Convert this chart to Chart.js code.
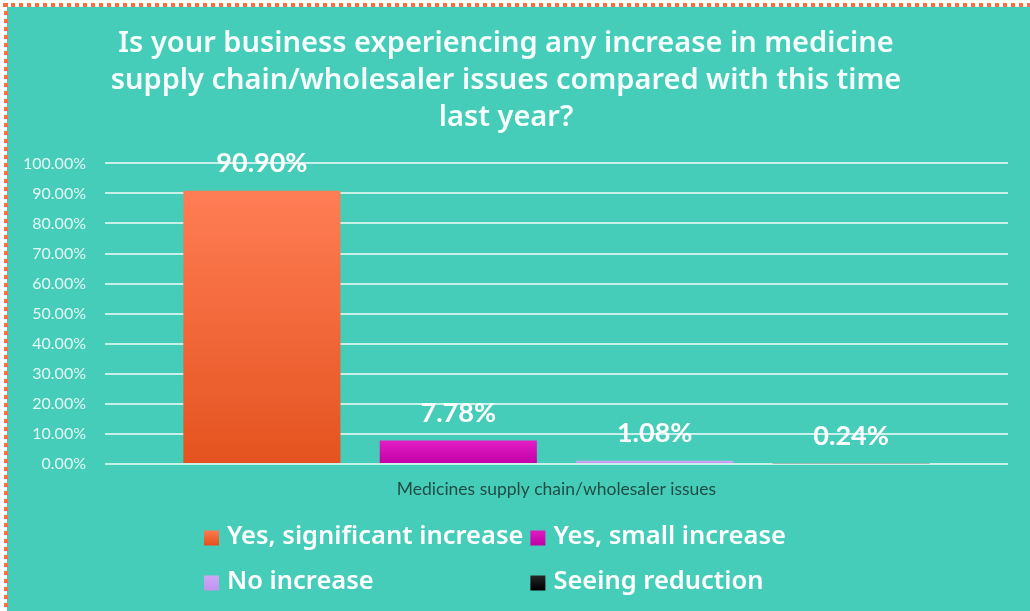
<!DOCTYPE html>
<html>
<head>
<meta charset="utf-8">
<script src="https://cdn.jsdelivr.net/npm/chart.js@4.4.0/dist/chart.umd.min.js"></script>
<style>
html, body { margin: 0; padding: 0; background: #ffffff; }
#wrap { width: 1030px; height: 611px; position: relative; }
</style>
</head>
<body>
<div id="wrap"><canvas id="supplyChart"></canvas></div>
<script>
// data
var categories = ['Medicines supply chain/wholesaler issues'];
var seriesNames = ['Yes, significant increase', 'Yes, small increase', 'No increase', 'Seeing reduction'];
var seriesValues = [90.90, 7.78, 1.08, 0.24];
var yTickMax = 100;
var yTickStep = 10;
var titleLines = [
  'Is your business experiencing any increase in medicine',
  'supply chain/wholesaler issues compared with this time',
  'last year?'
];

// colours (top / bottom of each bar's gradient)
var colorsTop = ['#ff7d55', '#e21ec4', '#d0a8f5', '#2a2a2a'];
var colorsBottom = ['#e4531f', '#c200a6', '#c096ee', '#000000'];
var teal = '#46cdb9';

function gradientFor(chart, i, top, bottom) {
  var g = chart.ctx.createLinearGradient(0, top, 0, bottom);
  g.addColorStop(0, colorsTop[i]);
  g.addColorStop(1, colorsBottom[i]);
  return g;
}

function barFill(c) {
  var chart = c.chart;
  if (!chart.chartArea || !chart.scales.y) return colorsTop[c.datasetIndex];
  var y = chart.scales.y;
  var top = y.getPixelForValue(c.raw);
  var bottom = y.getPixelForValue(0);
  if (bottom - top < 1) top = bottom - 1;
  return gradientFor(chart, c.datasetIndex, top, bottom);
}

// page background + dashed frame
var framePlugin = {
  id: 'frame',
  beforeDraw: function (chart) {
    var ctx = chart.ctx;
    ctx.save();
    ctx.fillStyle = '#ffffff';
    ctx.fillRect(0, 0, chart.width, chart.height);
    ctx.fillStyle = teal;
    ctx.fillRect(7, 7, chart.width - 7, chart.height - 7);
    ctx.strokeStyle = '#ff6e3f';
    ctx.lineWidth = 4;
    ctx.setLineDash([4, 4]);
    ctx.beginPath();
    ctx.moveTo(3, 5); ctx.lineTo(chart.width, 5);
    ctx.moveTo(6, 3); ctx.lineTo(6, chart.height);
    ctx.stroke();
    ctx.restore();
  }
};

// value labels above bars
var valueLabels = {
  id: 'valueLabels',
  afterDatasetsDraw: function (chart) {
    var ctx = chart.ctx;
    ctx.save();
    ctx.font = 'bold 27px Lato';
    ctx.fillStyle = '#ffffff';
    ctx.textAlign = 'center';
    ctx.textBaseline = 'middle';
    chart.data.datasets.forEach(function (ds, i) {
      chart.getDatasetMeta(i).data.forEach(function (bar, j) {
        ctx.fillText(ds.data[j].toFixed(2) + '%', bar.x, bar.y - 27);
      });
    });
    ctx.restore();
  }
};

// two-column legend under the axis
var gridLegend = {
  id: 'gridLegend',
  afterDraw: function (chart) {
    var ctx = chart.ctx;
    var startX = 204, colGap = 7, box = 15, boxGap = 8;
    var rowY = [537, 582];
    ctx.save();
    ctx.font = '600 25.5px "Noto Sans"';
    ctx.textBaseline = 'middle';
    ctx.fillStyle = '#ffffff';
    var col1 = 0;
    seriesNames.forEach(function (n, i) {
      if (i % 2 === 0) col1 = Math.max(col1, ctx.measureText(n).width);
    });
    var colX = [startX, startX + box + boxGap + col1 + colGap];
    seriesNames.forEach(function (n, i) {
      var x = colX[i % 2], y = rowY[Math.floor(i / 2)];
      ctx.fillStyle = gradientFor(chart, i, y - box / 2, y + box / 2);
      ctx.fillRect(x, y - box / 2 + 1, box, box);
      ctx.fillStyle = '#ffffff';
      ctx.fillText(n, x + box + boxGap, y);
    });
    ctx.restore();
  }
};

var datasets = seriesNames.map(function (name, i) {
  return {
    label: name,
    data: [seriesValues[i]],
    backgroundColor: barFill,
    barPercentage: 0.8,
    categoryPercentage: 0.87
  };
});

var sctx = document.getElementById('supplyChart').getContext('2d');
var supplyChart = new Chart(sctx, {
  type: 'bar',
  data: {
    labels: categories,
    datasets: datasets
  },
  plugins: [framePlugin, valueLabels, gridLegend],
  options: {
    responsive: true,
    maintainAspectRatio: false,
    animation: false,
    layout: {
      padding: { left: 4, right: 22, top: 0, bottom: 96 }
    },
    plugins: {
      legend: { display: false },
      tooltip: { enabled: false },
      title: {
        display: true,
        text: titleLines,
        color: '#f6fffd',
        font: { family: '"Noto Sans"', size: 29, weight: '600', lineHeight: 1.28 },
        padding: { top: 25, bottom: 27 }
      }
    },
    scales: {
      x: {
        grid: { display: false, drawTicks: false },
        border: { display: false },
        ticks: {
          color: '#1f4d46',
          font: { family: 'Lato', size: 17.5 },
          padding: 15
        }
      },
      y: {
        min: 0,
        max: yTickMax,
        border: { display: false },
        grid: {
          color: 'rgba(255,255,255,0.7)',
          lineWidth: 2,
          drawTicks: false
        },
        ticks: {
          stepSize: yTickStep,
          color: 'rgba(255,255,255,0.85)',
          font: { family: 'Lato', size: 16 },
          padding: 19,
          callback: function (v) { return v.toFixed(2) + '%'; }
        }
      }
    }
  }
});
</script>
</body>
</html>
